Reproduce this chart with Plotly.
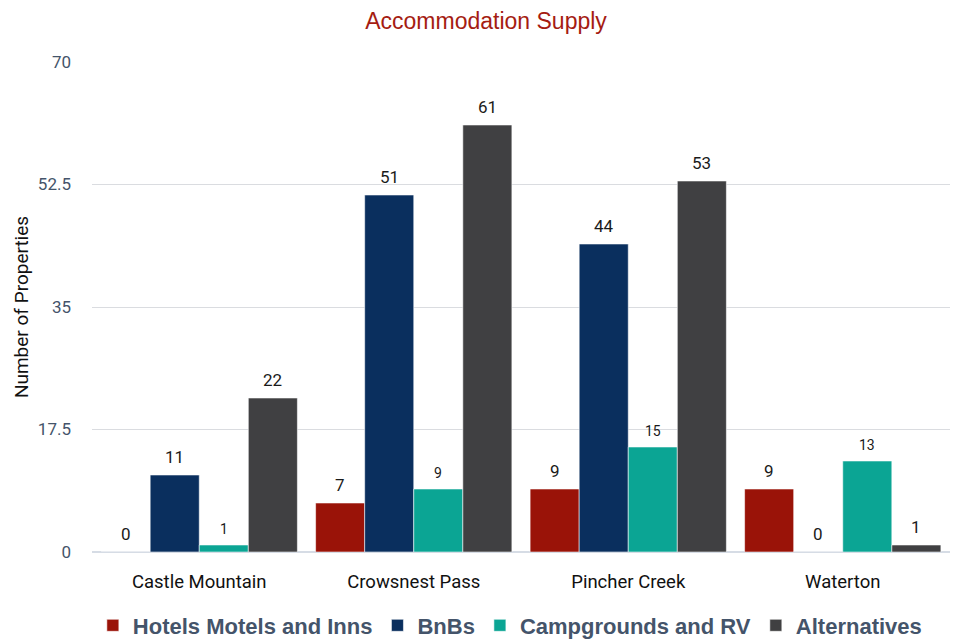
import plotly.graph_objects as go

categories = ["Castle Mountain", "Crowsnest Pass", "Pincher Creek", "Waterton"]
hotels = [0, 7, 9, 9]
bnbs = [11, 51, 44, 0]
campgrounds = [1, 9, 15, 13]
alternatives = [22, 61, 53, 1]
y_ticks = [0, 17.5, 35, 52.5, 70]

series = [
    ("Hotels Motels and Inns", hotels, "#9A1308", 17),
    ("BnBs", bnbs, "#0A2F5E", 17),
    ("Campgrounds and RV", campgrounds, "#0BA594", 14),
    ("Alternatives", alternatives, "#404042", 17),
]

W, H = 959, 641
ML, MR, MT, MB = 84, 17, 54, 97
BARGAP = 0.085

fig = go.Figure()
for name, vals, color, fs in series:
    fig.add_trace(go.Bar(
        name=name, x=categories, y=vals,
        marker=dict(color=color, line=dict(color="rgba(255,255,255,0.55)", width=1)),
    ))

# value labels above bars
plot_w = W - ML - MR
bar_px = plot_w / len(categories) * (1 - BARGAP) / len(series)
for i, (name, vals, color, fs) in enumerate(series):
    for cat, v in zip(categories, vals):
        fig.add_annotation(
            x=cat, y=v, xref="x", yref="y", text=str(v), showarrow=False,
            xanchor="center", yanchor="bottom",
            xshift=(i - (len(series) - 1) / 2) * bar_px, yshift=6,
            font=dict(family="Roboto, Arial, sans-serif", size=fs, color="#1a1a1a"),
        )

fig.update_layout(
    width=W, height=H,
    paper_bgcolor="white", plot_bgcolor="white",
    margin=dict(l=ML, r=MR, t=MT, b=MB, autoexpand=False),
    barmode="group", bargap=BARGAP, bargroupgap=0,
    title=dict(text="Accommodation Supply", x=0.4985, xanchor="center", y=0.980, yanchor="middle",
               font=dict(family="Liberation Sans, Arial, sans-serif", size=23, color="#A51C12")),
    showlegend=True,
    legend=dict(orientation="h", x=0.487, xanchor="center", y=-0.150, yanchor="middle",
                font=dict(family="Liberation Sans, Arial, sans-serif", size=22, color="#44546A", weight="bold"),
                tracegroupgap=0),
    font=dict(family="Roboto, Arial, sans-serif"),
)
fig.update_yaxes(
    range=[0, 70], tickvals=y_ticks, ticktext=["0", "17.5", "35", "52.5", "70"],
    showgrid=True, gridcolor="#DADCE0", gridwidth=1,
    zeroline=True, zerolinecolor="#D6DCE5", zerolinewidth=1.5,
    tickfont=dict(size=17, color="#44546A"), ticklabelstandoff=20,
    title=dict(text="Number of Properties", font=dict(size=19, color="#111111"), standoff=4),
    showline=False, automargin=False,
)
fig.update_xaxes(
    tickfont=dict(size=18.5, color="#111111"), ticklabelstandoff=16,
    showline=False, showgrid=False, automargin=False,
)

fig.write_html("out.html")
